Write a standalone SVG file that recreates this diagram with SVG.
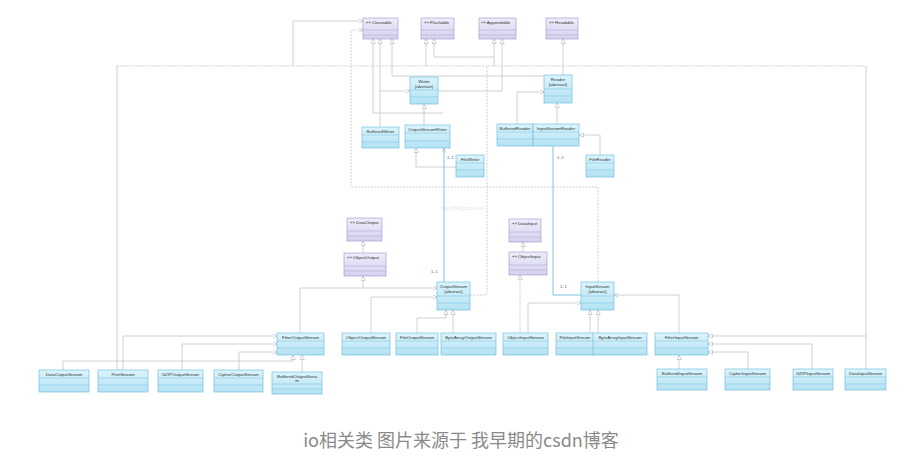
<svg xmlns="http://www.w3.org/2000/svg" width="909" height="459" viewBox="0 0 909 459">
<style>
.cb{fill:url(#gc);stroke:#74bfdf;stroke-width:0.7}
.ib{fill:url(#gi);stroke:#a6a2d2;stroke-width:0.7}
.cs{stroke:#74bfdf;stroke-width:0.5}
.is{stroke:#a6a2d2;stroke-width:0.5}
.t{font-family:"Liberation Sans",Arial,sans-serif;font-size:4.4px;fill:#333;text-anchor:middle}
.ti{font-family:"Liberation Sans",Arial,sans-serif;font-size:4.4px;fill:#333}
.m{font-family:"Liberation Sans",Arial,sans-serif;font-size:4px;fill:#555}
.c{fill:none;stroke:#c4c4cc;stroke-width:0.8}
.d{stroke-dasharray:2 1.2}
.a{fill:none;stroke:#5ab5dc;stroke-width:0.8}
.cap{font-family:"Noto Sans CJK SC","Noto Sans",sans-serif;font-size:18px;fill:#8a8a8a;text-anchor:middle}
.wm{font-family:"Liberation Sans",Arial,sans-serif;font-size:5px;fill:#e4e4ea;text-anchor:middle}
</style>
<defs>
<linearGradient id="gc" x1="0" y1="0" x2="0" y2="1"><stop offset="0" stop-color="#dcf4fc"/><stop offset="1" stop-color="#b3e2f3"/></linearGradient>
<linearGradient id="gi" x1="0" y1="0" x2="0" y2="1"><stop offset="0" stop-color="#eeedfb"/><stop offset="1" stop-color="#d4d1ee"/></linearGradient>
<marker id="tri" viewBox="0 0 10 10" refX="10" refY="5" markerWidth="4.5" markerHeight="5" markerUnits="userSpaceOnUse" orient="auto"><path d="M0,0 L10,5 L0,10 Z" fill="#fff" stroke="#a8a8b8" stroke-width="1.2"/></marker>
<marker id="opn" viewBox="0 0 10 10" refX="10" refY="5" markerWidth="4.5" markerHeight="5" markerUnits="userSpaceOnUse" orient="auto"><path d="M0,0 L10,5 L0,10" fill="none" stroke="#a8a8b8" stroke-width="1.2"/></marker>
</defs>
<rect width="909" height="459" fill="#fff"/>
<text class="wm" x="463" y="210">http://blog.csdn.net/</text>

<g id="connectors">
<path class="c d" d="M117,66 H866"/>
<path class="c" d="M117,370 V66"/>
<path class="c" d="M866,336 V66"/>
<path class="c" d="M293,66 V21 H363" marker-end="url(#tri)"/>
<path class="c d" d="M598,282 V187 H351 V30 H363" marker-end="url(#tri)"/>
<path class="c d" d="M470,295 H487 V66"/>
<path class="c" d="M494,66 V39" marker-end="url(#tri)"/>
<path class="c" d="M426,66 V39" marker-end="url(#tri)"/>
<path class="c" d="M494,57 H434 V39" marker-end="url(#tri)"/>
<path class="c" d="M544,76 H392 V39" marker-end="url(#tri)"/>
<path class="c" d="M443,113 H373 V39" marker-end="url(#tri)"/>
<path class="c" d="M380,127 V91 H410" marker-end="url(#tri)"/>
<path class="c" d="M380,91 V39" marker-end="url(#tri)"/>
<path class="c" d="M438,91 H502 V39" marker-end="url(#tri)"/>
<path class="c" d="M563,75 V39" marker-end="url(#tri)"/>
<path class="c" d="M424,125 V104" marker-end="url(#tri)"/>
<path class="c" d="M456,167 H416 V148" marker-end="url(#tri)"/>
<path class="c" d="M557,124 V103" marker-end="url(#tri)"/>
<path class="c" d="M517,124 V92 H544" marker-end="url(#tri)"/>
<path class="c" d="M600,155 V135 H579" marker-end="url(#tri)"/>
<path class="a" d="M444,282 V148" marker-end="url(#opn)"/>
<path class="a" d="M553,146 V295 H581"/>
<path class="c" d="M363,253 V241" marker-end="url(#tri)"/>
<path class="c" d="M523,252 V242" marker-end="url(#tri)"/>
<path class="c" d="M300,333 V288 H437" marker-end="url(#tri)"/>
<path class="c" d="M363,288 V276" marker-end="url(#tri)"/>
<path class="c" d="M371,333 V297 H437" marker-end="url(#tri)"/>
<path class="c" d="M417,333 V318 H446 V310" marker-end="url(#tri)"/>
<path class="c" d="M453,333 V310" marker-end="url(#tri)"/>
<path class="c d" d="M520,333 V275" marker-end="url(#tri)"/>
<path class="c" d="M528,333 V303 H581" marker-end="url(#tri)"/>
<path class="c" d="M590,333 V310" marker-end="url(#tri)"/>
<path class="c" d="M598,333 V310" marker-end="url(#tri)"/>
<path class="c" d="M679,333 V295 H614" marker-end="url(#opn)"/>
<path class="c" d="M866,369 V336 H708" marker-end="url(#tri)"/>
<path class="c" d="M812,369 V344 H708" marker-end="url(#tri)"/>
<path class="c" d="M748,369 V352 H708" marker-end="url(#tri)"/>
<path class="c" d="M679,369 V355" marker-end="url(#tri)"/>
<path class="c" d="M123,370 V336 H277" marker-end="url(#tri)"/>
<path class="c" d="M182,370 V344 H277" marker-end="url(#tri)"/>
<path class="c" d="M239,370 V352 H277" marker-end="url(#tri)"/>
<path class="c" d="M63,370 V361 H293 V355" marker-end="url(#tri)"/>
<path class="c" d="M302,372 V355" marker-end="url(#tri)"/>
<text class="m" x="447" y="159">1..1</text>
<text class="m" x="557" y="159">1..1</text>
<text class="m" x="431" y="273">1..1</text>
<text class="m" x="560" y="288">1..1</text>
</g>

<!-- interfaces -->
<g id="Closeable"><rect class="ib" x="363" y="18" width="35" height="21"/><line class="is" x1="363" y1="30" x2="398" y2="30"/><line class="is" x1="363" y1="35" x2="398" y2="35"/><text class="ti" x="366" y="23.5">«» Closeable</text></g>
<g id="Flushable"><rect class="ib" x="421" y="18" width="33" height="21"/><line class="is" x1="421" y1="30" x2="454" y2="30"/><line class="is" x1="421" y1="35" x2="454" y2="35"/><text class="ti" x="424" y="23.5">«» Flushable</text></g>
<g id="Appendable"><rect class="ib" x="479" y="18" width="37" height="21"/><line class="is" x1="479" y1="30" x2="516" y2="30"/><line class="is" x1="479" y1="35" x2="516" y2="35"/><text class="ti" x="481" y="23.5">«» Appendable</text></g>
<g id="Readable"><rect class="ib" x="546" y="18" width="32" height="21"/><line class="is" x1="546" y1="30" x2="578" y2="30"/><line class="is" x1="546" y1="35" x2="578" y2="35"/><text class="ti" x="549" y="23.5">«» Readable</text></g>
<g id="DataOutput"><rect class="ib" x="347" y="218" width="35" height="23"/><line class="is" x1="347" y1="231" x2="382" y2="231"/><line class="is" x1="347" y1="236" x2="382" y2="236"/><text class="ti" x="350" y="224">«» DataOutput</text></g>
<g id="ObjectOutput"><rect class="ib" x="344" y="253" width="42" height="23"/><line class="is" x1="344" y1="266" x2="386" y2="266"/><line class="is" x1="344" y1="271" x2="386" y2="271"/><text class="ti" x="347" y="259">«» ObjectOutput</text></g>
<g id="DataInput"><rect class="ib" x="509" y="219" width="32" height="23"/><line class="is" x1="509" y1="232" x2="541" y2="232"/><line class="is" x1="509" y1="237" x2="541" y2="237"/><text class="ti" x="512" y="225">«» DataInput</text></g>
<g id="ObjectInput"><rect class="ib" x="509" y="252" width="38" height="23"/><line class="is" x1="509" y1="265" x2="547" y2="265"/><line class="is" x1="509" y1="270" x2="547" y2="270"/><text class="ti" x="512" y="258">«» ObjectInput</text></g>

<!-- abstract classes -->
<g id="Writer"><rect class="cb" x="410" y="77" width="28" height="27"/><line class="cs" x1="410" y1="90" x2="438" y2="90"/><line class="cs" x1="410" y1="97" x2="438" y2="97"/><text class="t" x="424" y="82.5">Writer</text><text class="t" x="424" y="87.5">{abstract}</text></g>
<g id="Reader"><rect class="cb" x="544" y="75" width="28" height="28"/><line class="cs" x1="544" y1="89" x2="572" y2="89"/><line class="cs" x1="544" y1="96" x2="572" y2="96"/><text class="t" x="558" y="80.5">Reader</text><text class="t" x="558" y="85.5">{abstract}</text></g>
<g id="OutputStream"><rect class="cb" x="437" y="282" width="33" height="28"/><line class="cs" x1="437" y1="296" x2="470" y2="296"/><line class="cs" x1="437" y1="303" x2="470" y2="303"/><text class="t" x="453.5" y="287.5">OutputStream</text><text class="t" x="453.5" y="292.5">{abstract}</text></g>
<g id="InputStream"><rect class="cb" x="581" y="282" width="33" height="28"/><line class="cs" x1="581" y1="296" x2="614" y2="296"/><line class="cs" x1="581" y1="303" x2="614" y2="303"/><text class="t" x="597.5" y="287.5">InputStream</text><text class="t" x="597.5" y="292.5">{abstract}</text></g>

<!-- classes -->
<g id="BufferedWriter"><rect class="cb" x="362" y="127" width="37" height="21"/><line class="cs" x1="362" y1="135" x2="399" y2="135"/><line class="cs" x1="362" y1="142" x2="399" y2="142"/><text class="t" x="380.5" y="132.5">BufferedWriter</text></g>
<g id="OutputStreamWriter"><rect class="cb" x="405" y="125" width="45" height="23"/><line class="cs" x1="405" y1="133" x2="450" y2="133"/><line class="cs" x1="405" y1="141" x2="450" y2="141"/><text class="t" x="427.5" y="130.5">OutputStreamWriter</text></g>
<g id="FileWriter"><rect class="cb" x="456" y="155" width="28" height="22"/><line class="cs" x1="456" y1="163" x2="484" y2="163"/><line class="cs" x1="456" y1="170" x2="484" y2="170"/><text class="t" x="470" y="160.5">FileWriter</text></g>
<g id="BufferedReader"><rect class="cb" x="497" y="124" width="36" height="22"/><line class="cs" x1="497" y1="132" x2="533" y2="132"/><line class="cs" x1="497" y1="139" x2="533" y2="139"/><text class="t" x="515" y="129.5">BufferedReader</text></g>
<g id="InputStreamReader"><rect class="cb" x="533" y="124" width="46" height="22"/><line class="cs" x1="533" y1="132" x2="579" y2="132"/><line class="cs" x1="533" y1="139" x2="579" y2="139"/><text class="t" x="556" y="129.5">InputStreamReader</text></g>
<g id="FileReader"><rect class="cb" x="586" y="155" width="28" height="22"/><line class="cs" x1="586" y1="163" x2="614" y2="163"/><line class="cs" x1="586" y1="170" x2="614" y2="170"/><text class="t" x="600" y="160.5">FileReader</text></g>

<g id="FilterOutputStream"><rect class="cb" x="277" y="333" width="47" height="22"/><line class="cs" x1="277" y1="341" x2="324" y2="341"/><line class="cs" x1="277" y1="348" x2="324" y2="348"/><text class="t" x="300.5" y="338.5">FilterOutputStream</text></g>
<g id="ObjectOutputStream"><rect class="cb" x="342" y="333" width="48" height="22"/><line class="cs" x1="342" y1="341" x2="390" y2="341"/><line class="cs" x1="342" y1="348" x2="390" y2="348"/><text class="t" x="366" y="338.5">ObjectOutputStream</text></g>
<g id="FileOutputStream"><rect class="cb" x="396" y="333" width="42" height="22"/><line class="cs" x1="396" y1="341" x2="438" y2="341"/><line class="cs" x1="396" y1="348" x2="438" y2="348"/><text class="t" x="417" y="338.5">FileOutputStream</text></g>
<g id="ByteArrayOutputStream"><rect class="cb" x="441" y="333" width="55" height="22"/><line class="cs" x1="441" y1="341" x2="496" y2="341"/><line class="cs" x1="441" y1="348" x2="496" y2="348"/><text class="t" x="468.5" y="338.5">ByteArrayOutputStream</text></g>
<g id="ObjectInputStream"><rect class="cb" x="503" y="333" width="45" height="22"/><line class="cs" x1="503" y1="341" x2="548" y2="341"/><line class="cs" x1="503" y1="348" x2="548" y2="348"/><text class="t" x="525.5" y="338.5">ObjectInputStream</text></g>
<g id="FileInputStream"><rect class="cb" x="556" y="333" width="38" height="22"/><line class="cs" x1="556" y1="341" x2="594" y2="341"/><line class="cs" x1="556" y1="348" x2="594" y2="348"/><text class="t" x="575" y="338.5">FileInputStream</text></g>
<g id="ByteArrayInputStream"><rect class="cb" x="593" y="333" width="54" height="22"/><line class="cs" x1="593" y1="341" x2="647" y2="341"/><line class="cs" x1="593" y1="348" x2="647" y2="348"/><text class="t" x="620" y="338.5">ByteArrayInputStream</text></g>
<g id="FilterInputStream"><rect class="cb" x="655" y="333" width="53" height="22"/><line class="cs" x1="655" y1="341" x2="708" y2="341"/><line class="cs" x1="655" y1="348" x2="708" y2="348"/><text class="t" x="681.5" y="338.5">FilterInputStream</text></g>

<g id="DataOutputStream"><rect class="cb" x="39" y="370" width="50" height="22"/><line class="cs" x1="39" y1="378" x2="89" y2="378"/><line class="cs" x1="39" y1="385" x2="89" y2="385"/><text class="t" x="64" y="375.5">DataOutputStream</text></g>
<g id="PrintStream"><rect class="cb" x="98" y="370" width="50" height="22"/><line class="cs" x1="98" y1="378" x2="148" y2="378"/><line class="cs" x1="98" y1="385" x2="148" y2="385"/><text class="t" x="123" y="375.5">PrintStream</text></g>
<g id="GZIPOutputStream"><rect class="cb" x="158" y="370" width="45" height="22"/><line class="cs" x1="158" y1="378" x2="203" y2="378"/><line class="cs" x1="158" y1="385" x2="203" y2="385"/><text class="t" x="180.5" y="375.5">GZIPOutputStream</text></g>
<g id="CipherOutputStream"><rect class="cb" x="214" y="370" width="49" height="22"/><line class="cs" x1="214" y1="378" x2="263" y2="378"/><line class="cs" x1="214" y1="385" x2="263" y2="385"/><text class="t" x="238.5" y="375.5">CipherOutputStream</text></g>
<g id="BufferedOutputStream"><rect class="cb" x="272" y="372" width="50" height="22"/><line class="cs" x1="272" y1="384" x2="322" y2="384"/><line class="cs" x1="272" y1="389" x2="322" y2="389"/><text class="t" x="297" y="377.5">BufferedOutputStrea</text><text class="t" x="297" y="382">m</text></g>

<g id="BufferedInputStream"><rect class="cb" x="657" y="369" width="50" height="21"/><line class="cs" x1="657" y1="377" x2="707" y2="377"/><line class="cs" x1="657" y1="384" x2="707" y2="384"/><text class="t" x="682" y="374.5">BufferedInputStream</text></g>
<g id="CipherInputStream"><rect class="cb" x="725" y="369" width="45" height="21"/><line class="cs" x1="725" y1="377" x2="770" y2="377"/><line class="cs" x1="725" y1="384" x2="770" y2="384"/><text class="t" x="747.5" y="374.5">CipherInputStream</text></g>
<g id="GZIPInputStream"><rect class="cb" x="793" y="369" width="40" height="21"/><line class="cs" x1="793" y1="377" x2="833" y2="377"/><line class="cs" x1="793" y1="384" x2="833" y2="384"/><text class="t" x="813" y="374.5">GZIPInputStream</text></g>
<g id="DataInputStream"><rect class="cb" x="845" y="369" width="41" height="21"/><line class="cs" x1="845" y1="377" x2="886" y2="377"/><line class="cs" x1="845" y1="384" x2="886" y2="384"/><text class="t" x="865.5" y="374.5">DataInputStream</text></g>

<text class="cap" x="461" y="447">io相关类 图片来源于 我早期的csdn博客</text>
</svg>
